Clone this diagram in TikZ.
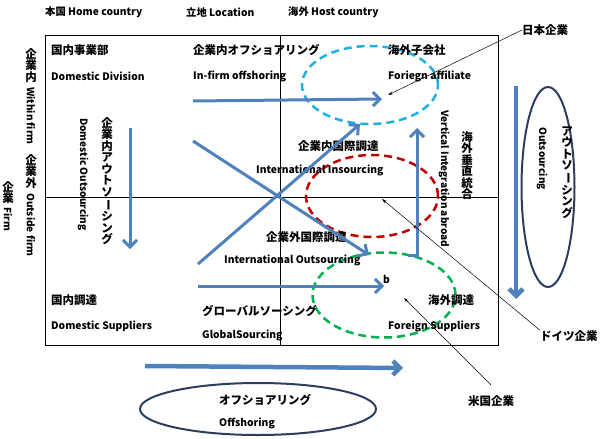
\documentclass[tikz,border=0pt]{standalone}
\usepackage{fontspec}
\usepackage{graphicx}
\usepackage{xcolor}
\setmainfont{Noto Sans CJK JP}
\usetikzlibrary{shapes.geometric,positioning,arrows.meta}

\definecolor{flowblue}{RGB}{79,129,189}
\definecolor{navy}{RGB}{44,62,96}
\definecolor{jpcyan}{RGB}{30,176,226}
\definecolor{derot}{RGB}{192,0,0}
\definecolor{usgreen}{RGB}{0,176,80}

% long vowel mark in vertical writing
\newcommand\tatebar{\rotatebox[origin=c]{-90}{ー}}

\begin{document}
\begin{tikzpicture}[x=1pt, y=-1pt,
        lbl/.style={anchor=west, inner sep=0pt, font=\bfseries\fontsize{10.3}{12}\selectfont},
        jlbl/.style={anchor=west, inner sep=0pt, font=\bfseries\fontsize{11.5}{13}\selectfont},
        vlbl/.style={rotate=-90, anchor=west, inner sep=0pt, font=\bfseries\fontsize{10}{12}\selectfont},
        jvlbl/.style={anchor=north, align=center, inner sep=0pt, font=\bfseries\fontsize{11.5}{11.5}\selectfont},
        flow/.style={draw=flowblue, line width=3pt, -{Straight Barb[length=7pt, width=14pt]}},
        bigflow/.style={flow, line width=4.5pt},
        pointer/.style={draw=black, line width=0.5pt, -{Stealth[length=5pt, width=3pt]}},
        group/.style={ellipse, line width=2.5pt, dash pattern=on 8pt off 5pt, inner sep=0pt},
        oval/.style={ellipse, draw=navy, line width=2pt, inner sep=0pt}
    ]
        \useasboundingbox (0,0) rectangle (603,439);

        % Header
        \node[lbl] (home) at (45,12) {本国 Home country};
        \node[lbl] (loc) at (186,12) {立地 Location};
        \node[lbl] (host) at (288,12) {海外 Host country};
        \node[jvlbl] (firm) at (8,181) {企\\業};
        \node[vlbl] (firme) at (8,207) {Firm};
        \node[jvlbl] (within) at (31,48) {企\\業\\内};
        \node[vlbl] (withine) at (31,87) {Within firm};
        \node[jvlbl] (outside) at (31,154) {企\\業\\外};
        \node[vlbl] (outsidee) at (31,193) {Outside firm};

        % Frame
        \draw (45,35) rectangle (498,345);
        \draw (280,35) -- (280,345);
        \draw (45,197) -- (498,197);

        % Groups
        \node[group, draw=jpcyan, minimum width=136pt, minimum height=78pt] (jpn) at (370,85) {};
        \node[group, draw=derot, minimum width=132pt, minimum height=82pt] (deu) at (372,196) {};
        \node[group, draw=usgreen, minimum width=143pt, minimum height=85pt] (usa) at (384,295) {};
        \node[oval, minimum width=53pt, minimum height=200pt] (outs) at (548,187) {};
        \node[oval, minimum width=236pt, minimum height=52pt] (offs) at (258,409) {};

        % Quadrants
        \node[jlbl] (dd) at (51,50) {国内事業部};
        \node[lbl] (dde) at (51,76) {Domestic Division};
        \node[jlbl] (ifo) at (193,50) {企業内オフショアリング};
        \node[lbl] (ifoe) at (193,76) {In-firm offshoring};
        \node[jlbl] (fa) at (388,50) {海外子会社};
        \node[lbl] (fae) at (388,76) {Foriegn affiliate};
        \node[jlbl] (ii) at (298,146) {企業内国際調達};
        \node[lbl] (iie) at (256,170) {International Insourcing};
        \node[jlbl] (io) at (266,237) {企業外国際調達};
        \node[lbl] (ioe) at (224,260) {International Outsourcing};
        \node[lbl] (b) at (383,279) {b};
        \node[jlbl] (ds) at (51,300) {国内調達};
        \node[lbl] (dse) at (51,326) {Domestic Suppliers};
        \node[jlbl] (gs) at (202,311) {グローバルソーシング};
        \node[lbl] (gse) at (202,335) {GlobalSourcing};
        \node[jlbl] (fs) at (428,300) {海外調達};
        \node[lbl] (fse) at (388,326) {Foreign Suppliers};
        \node[jvlbl] (dom) at (107,117) {企\\業\\内\\ア\\ウ\\ト\\ソ\\\tatebar\\シ\\ン\\グ};
        \node[vlbl] (dome) at (83,118) {Domestic Outsourcing};
        \node[jvlbl] (vi) at (467,131) {海\\外\\垂\\直\\統\\合};
        \node[vlbl] (vie) at (444,110) {Vertical Integration abroad};
        \node[jvlbl] (os) at (567,126) {ア\\ウ\\ト\\ソ\\\tatebar\\シ\\ン\\グ};
        \node[vlbl] (ose) at (542,127) {Outsourcing};
        \node[jlbl] (of) at (219,400) {オフショアリング};
        \node[lbl] (ofe) at (219,423) {Offshoring};

        % Flows
        \coordinate (f1a) at (193,101); \coordinate (f1b) at (382,99);
        \coordinate (f2a) at (198,264); \coordinate (f2b) at (360,124);
        \coordinate (f3a) at (193,141); \coordinate (f3b) at (369,255);
        \coordinate (f4a) at (198,286); \coordinate (f4b) at (384,286);
        \coordinate (f5a) at (408,255); \coordinate (f5b) at (417,128);
        \draw[flow] (f1a) -- (f1b);
        \draw[flow] (f2a) -- (f2b);
        \draw[flow] (f3a) -- (f3b);
        \draw[flow] (f4a) -- (f4b);
        \draw[flow] (f5a) -| (f5b);
        \coordinate (dda) at (130,128); \coordinate (ddb) at (130,249);
        \draw[flow] (dda) -- (ddb);
        \coordinate (osa) at (516,86); \coordinate (osb) at (516,299);
        \draw[bigflow] (osa) -- (osb);
        \coordinate (ofa) at (145,366); \coordinate (ofb) at (403,368);
        \draw[bigflow] (ofa) -- (ofb);

        % Firms
        \node[jlbl] (jp) at (522,30) {日本企業};
        \node[jlbl] (de) at (540,336) {ドイツ企業};
        \node[jlbl] (us) at (468,401) {米国企業};
        \coordinate (jpt) at (388,95);
        \coordinate (det) at (382,199);
        \coordinate (ust) at (404,298);
        \draw[pointer] (jp.west) -- (jpt);
        \draw[pointer] (de.north west) -- (det);
        \draw[pointer] (us.north) ++(0,-10) -- (ust);
    \end{tikzpicture}
\end{document}
